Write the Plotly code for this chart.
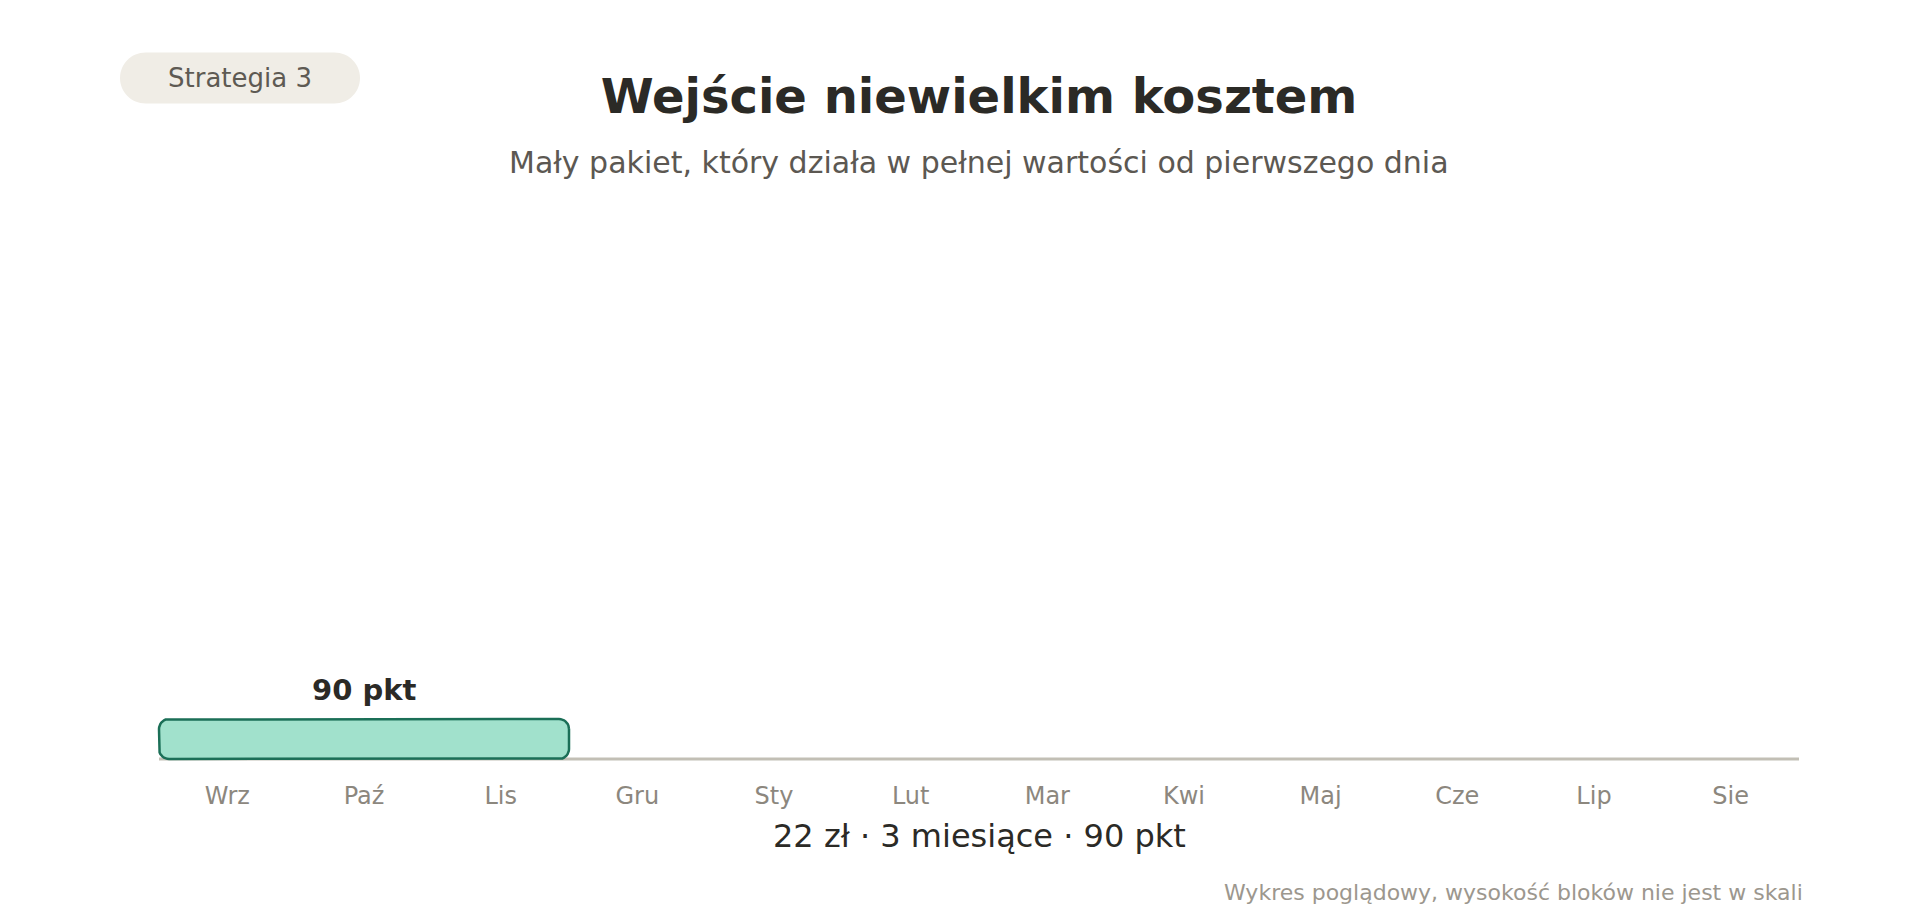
import numpy as np
import plotly.graph_objects as go

# ---------------- data ----------------
months = ["Wrz", "Paź", "Lis", "Gru", "Sty", "Lut", "Mar", "Kwi", "Maj", "Cze", "Lip", "Sie"]
block_start = [0]        # month index where the package starts
block_months = [3]       # duration in months
block_points = [90]      # points
price_zl = 22
strategy_label = "Strategia 3"
title_text = "Wejście niewielkim kosztem"
subtitle_text = "Mały pakiet, który działa w pełnej wartości od pierwszego dnia"
footer_text = "Wykres poglądowy, wysokość bloków nie jest w skali"

# ---------------- style / layout ----------------
W, H = 1920, 920
ML, MR, MT, MB = 150, 112, 200, 150
AXIS_X0_PX, AXIS_X1_PX = 159, 1799
AXIS_Y_PX = 759
PX_PER_UNIT_Y = 40.0
BAR_HEIGHT = 1.0
CORNER_PX = 10.0
FONT = "DejaVu Sans"

plot_w = W - ML - MR
plot_h = H - MT - MB
n = len(months)
px_per_month = (AXIS_X1_PX - AXIS_X0_PX) / n
x_lo = -(AXIS_X0_PX - ML) / px_per_month
x_hi = n + (W - MR - AXIS_X1_PX) / px_per_month
y_lo = -((H - MB) - AXIS_Y_PX) / PX_PER_UNIT_Y
y_hi = (AXIS_Y_PX - MT) / PX_PER_UNIT_Y


def paper_x(px):
    return (px - ML) / plot_w


def paper_y(py):
    return ((H - MB) - py) / plot_h


def rounded_rect(x0, x1, y0, y1, rx, ry, k=10):
    xs, ys = [], []
    corners = [
        (x1 - rx, y1 - ry, 0, 90),
        (x0 + rx, y1 - ry, 90, 180),
        (x0 + rx, y0 + ry, 180, 270),
        (x1 - rx, y0 + ry, 270, 360),
    ]
    for cx, cy, a0, a1 in corners:
        t = np.radians(np.linspace(a0, a1, k))
        xs.extend(cx + rx * np.cos(t))
        ys.extend(cy + ry * np.sin(t))
    xs.append(xs[0])
    ys.append(ys[0])
    return xs, ys


fig = go.Figure()

rx = CORNER_PX / px_per_month
ry = CORNER_PX / PX_PER_UNIT_Y
annotations = []
for s, d, p in zip(block_start, block_months, block_points):
    xs, ys = rounded_rect(s, s + d, 0, BAR_HEIGHT, rx, ry)
    fig.add_trace(go.Scatter(
        x=xs, y=ys, mode="lines", fill="toself",
        fillcolor="#a1e1cc", line=dict(color="#1b6f57", width=2.5),
        hoverinfo="skip", showlegend=False,
    ))
    annotations.append(dict(
        x=s + d / 2, y=BAR_HEIGHT, xref="x", yref="y",
        text=f"<b>{p} pkt</b>", showarrow=False,
        yanchor="middle", yshift=29,
        font=dict(family=FONT, size=29, color="#2b2a26"),
    ))

# baseline
shapes = [dict(
    type="line", xref="x", yref="y", x0=0, x1=n, y0=0, y1=0,
    line=dict(color="#c2bfb5", width=3), layer="below",
)]

# pill behind strategy label
pill_cx, pill_cy, pill_w, pill_h = 240, 78, 240, 51
r = pill_h / 2
w2 = pill_w / 2 - r
kk = 0.5523 * r
pill_path = (
    f"M {-w2},{-r} L {w2},{-r} "
    f"C {w2 + kk},{-r} {w2 + r},{-kk} {w2 + r},0 "
    f"C {w2 + r},{kk} {w2 + kk},{r} {w2},{r} "
    f"L {-w2},{r} "
    f"C {-w2 - kk},{r} {-w2 - r},{kk} {-w2 - r},0 "
    f"C {-w2 - r},{-kk} {-w2 - kk},{-r} {-w2},{-r} Z"
)
shapes.append(dict(
    type="path", xref="paper", yref="paper",
    xsizemode="pixel", ysizemode="pixel",
    xanchor=paper_x(pill_cx), yanchor=paper_y(pill_cy),
    path=pill_path, fillcolor="#f0ede6", line=dict(width=0), layer="below",
))

annotations += [
    dict(x=paper_x(pill_cx), y=paper_y(pill_cy), xref="paper", yref="paper",
         text=strategy_label, showarrow=False, xanchor="center", yanchor="middle",
         font=dict(family=FONT, size=26, color="#5e5a53")),
    dict(x=0.5, y=paper_y(162), xref="paper", yref="paper",
         text=subtitle_text, showarrow=False, xanchor="center", yanchor="middle",
         font=dict(family=FONT, size=30, color="#5c5852")),
    dict(x=0.5, y=paper_y(836), xref="paper", yref="paper",
         text=f"{price_zl} zł · {block_months[0]} miesiące · {block_points[0]} pkt",
         showarrow=False, xanchor="center", yanchor="middle",
         font=dict(family=FONT, size=32, color="#2b2a26")),
    dict(x=paper_x(1805), y=paper_y(892), xref="paper", yref="paper",
         text=footer_text, showarrow=False, xanchor="right", yanchor="middle",
         font=dict(family=FONT, size=22, color="#9c978e")),
]

fig.update_layout(
    width=W, height=H,
    margin=dict(l=ML, r=MR, t=MT, b=MB, pad=0),
    paper_bgcolor="white", plot_bgcolor="white",
    title=dict(text=f"<b>{title_text}</b>", x=0.5, xref="paper", xanchor="center",
               y=1 - 96 / H, yref="container", yanchor="middle",
               font=dict(family=FONT, size=48, color="#2b2a26")),
    xaxis=dict(range=[x_lo, x_hi], showgrid=False, zeroline=False, showline=False,
               tickmode="array", tickvals=[i + 0.5 for i in range(n)], ticktext=months,
               ticks="", ticklabelstandoff=9,
               tickfont=dict(family=FONT, size=24, color="#8c877e"), fixedrange=True),
    yaxis=dict(range=[y_lo, y_hi], showgrid=False, zeroline=False, showline=False,
               showticklabels=False, fixedrange=True),
    shapes=shapes, annotations=annotations,
    showlegend=False, font=dict(family=FONT),
)

fig.write_html("out.html")
